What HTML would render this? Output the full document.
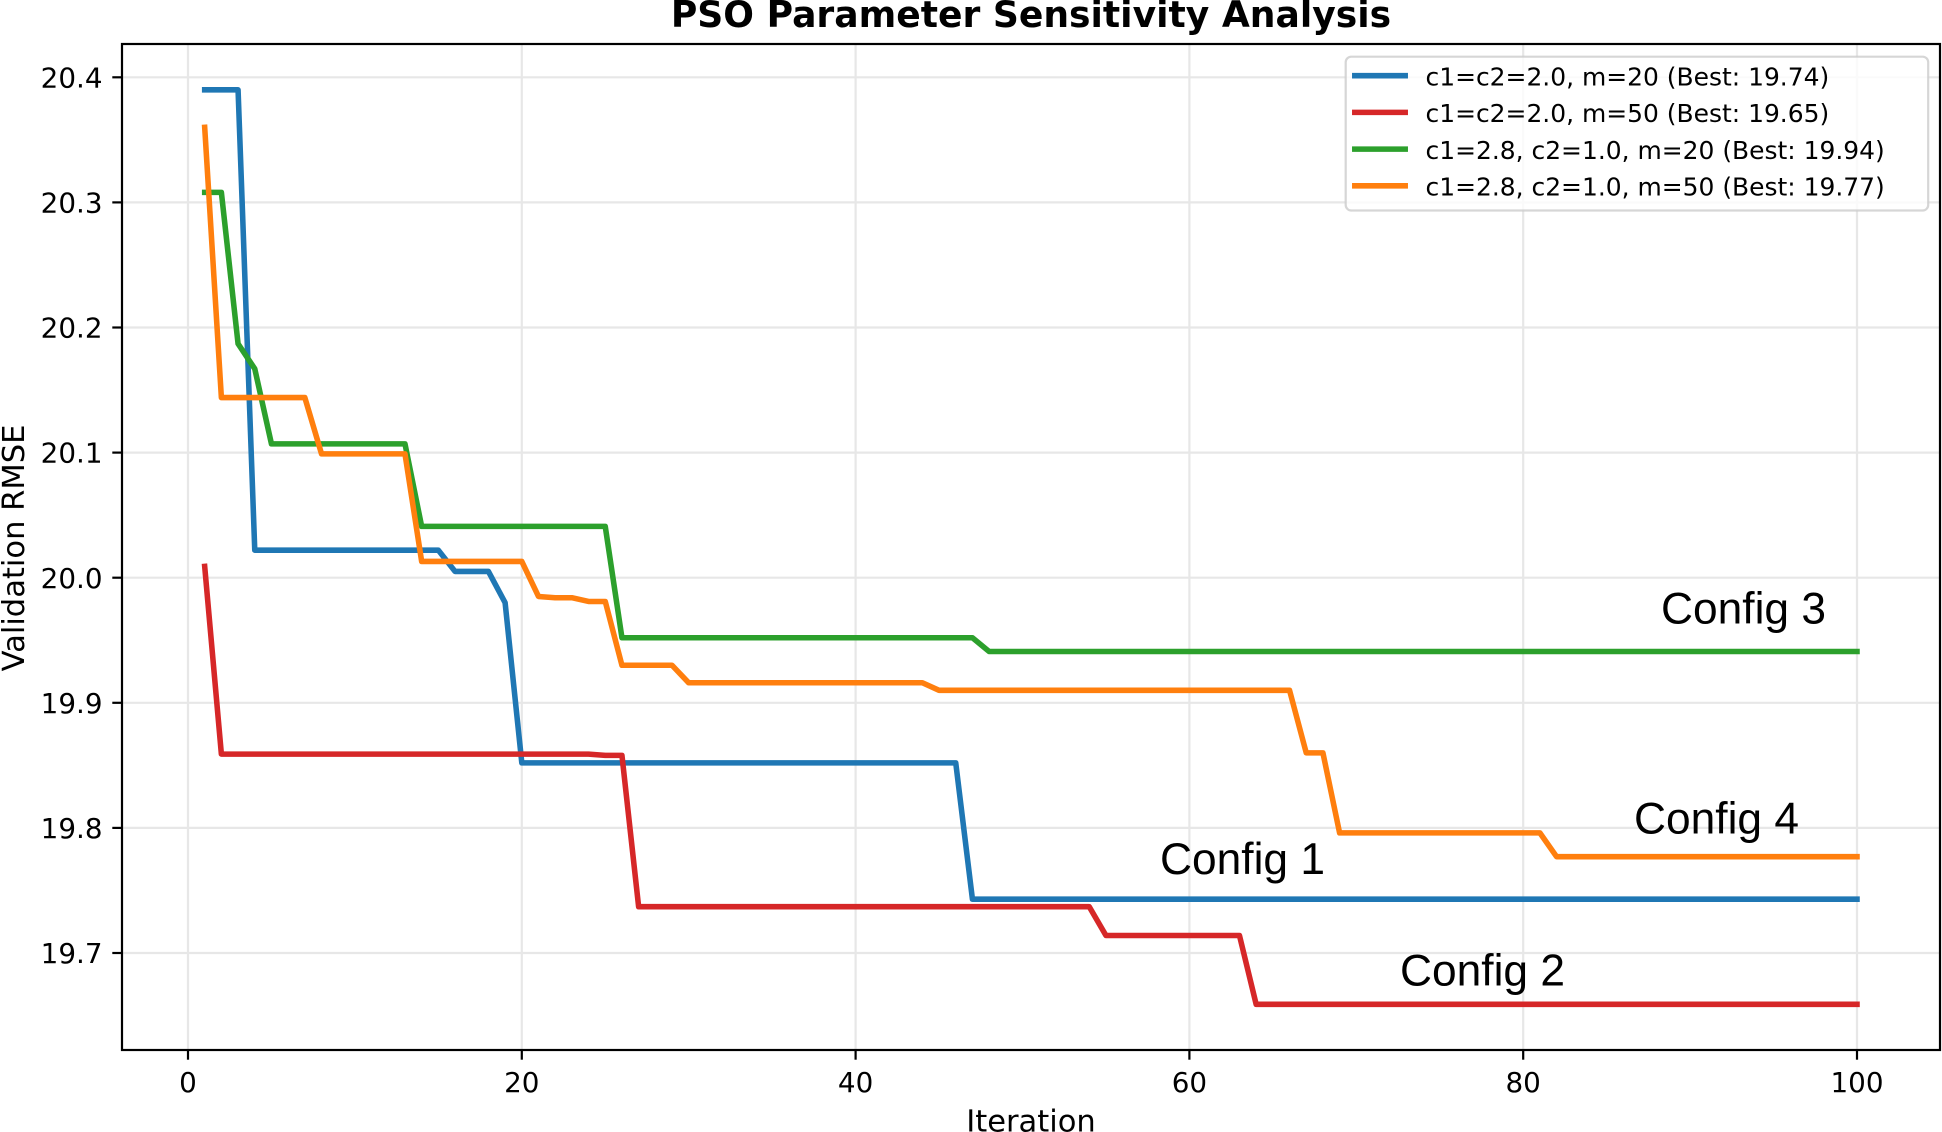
<!DOCTYPE html>
<html lang="en">
<head>
<meta charset="utf-8">
<title>PSO Parameter Sensitivity Analysis</title>
<style>
html,body{margin:0;padding:0;background:#fff;width:1942px;height:1132px;overflow:hidden}
svg{display:block}
text{font-family:"DejaVu Sans",sans-serif;fill:#000}
</style>
</head>
<body>
<svg id="chart" xmlns="http://www.w3.org/2000/svg" width="1942" height="1132" viewBox="0 0 1942 1132"></svg>
<script>
const iterations = [1,2,3,4,5,6,7,8,9,10,11,12,13,14,15,16,17,18,19,20,21,22,23,24,25,26,27,28,29,30,31,32,33,34,35,36,37,38,39,40,41,42,43,44,45,46,47,48,49,50,51,52,53,54,55,56,57,58,59,60,61,62,63,64,65,66,67,68,69,70,71,72,73,74,75,76,77,78,79,80,81,82,83,84,85,86,87,88,89,90,91,92,93,94,95,96,97,98,99,100];
const config1Values = [20.39,20.39,20.39,20.022,20.022,20.022,20.022,20.022,20.022,20.022,20.022,20.022,20.022,20.022,20.022,20.005,20.005,20.005,19.98,19.852,19.852,19.852,19.852,19.852,19.852,19.852,19.852,19.852,19.852,19.852,19.852,19.852,19.852,19.852,19.852,19.852,19.852,19.852,19.852,19.852,19.852,19.852,19.852,19.852,19.852,19.852,19.743,19.743,19.743,19.743,19.743,19.743,19.743,19.743,19.743,19.743,19.743,19.743,19.743,19.743,19.743,19.743,19.743,19.743,19.743,19.743,19.743,19.743,19.743,19.743,19.743,19.743,19.743,19.743,19.743,19.743,19.743,19.743,19.743,19.743,19.743,19.743,19.743,19.743,19.743,19.743,19.743,19.743,19.743,19.743,19.743,19.743,19.743,19.743,19.743,19.743,19.743,19.743,19.743,19.743];
const config2Values = [20.009,19.859,19.859,19.859,19.859,19.859,19.859,19.859,19.859,19.859,19.859,19.859,19.859,19.859,19.859,19.859,19.859,19.859,19.859,19.859,19.859,19.859,19.859,19.859,19.858,19.858,19.737,19.737,19.737,19.737,19.737,19.737,19.737,19.737,19.737,19.737,19.737,19.737,19.737,19.737,19.737,19.737,19.737,19.737,19.737,19.737,19.737,19.737,19.737,19.737,19.737,19.737,19.737,19.737,19.714,19.714,19.714,19.714,19.714,19.714,19.714,19.714,19.714,19.659,19.659,19.659,19.659,19.659,19.659,19.659,19.659,19.659,19.659,19.659,19.659,19.659,19.659,19.659,19.659,19.659,19.659,19.659,19.659,19.659,19.659,19.659,19.659,19.659,19.659,19.659,19.659,19.659,19.659,19.659,19.659,19.659,19.659,19.659,19.659,19.659];
const config3Values = [20.308,20.308,20.187,20.167,20.107,20.107,20.107,20.107,20.107,20.107,20.107,20.107,20.107,20.041,20.041,20.041,20.041,20.041,20.041,20.041,20.041,20.041,20.041,20.041,20.041,19.952,19.952,19.952,19.952,19.952,19.952,19.952,19.952,19.952,19.952,19.952,19.952,19.952,19.952,19.952,19.952,19.952,19.952,19.952,19.952,19.952,19.952,19.941,19.941,19.941,19.941,19.941,19.941,19.941,19.941,19.941,19.941,19.941,19.941,19.941,19.941,19.941,19.941,19.941,19.941,19.941,19.941,19.941,19.941,19.941,19.941,19.941,19.941,19.941,19.941,19.941,19.941,19.941,19.941,19.941,19.941,19.941,19.941,19.941,19.941,19.941,19.941,19.941,19.941,19.941,19.941,19.941,19.941,19.941,19.941,19.941,19.941,19.941,19.941,19.941];
const config4Values = [20.36,20.144,20.144,20.144,20.144,20.144,20.144,20.099,20.099,20.099,20.099,20.099,20.099,20.013,20.013,20.013,20.013,20.013,20.013,20.013,19.985,19.984,19.984,19.981,19.981,19.93,19.93,19.93,19.93,19.916,19.916,19.916,19.916,19.916,19.916,19.916,19.916,19.916,19.916,19.916,19.916,19.916,19.916,19.916,19.91,19.91,19.91,19.91,19.91,19.91,19.91,19.91,19.91,19.91,19.91,19.91,19.91,19.91,19.91,19.91,19.91,19.91,19.91,19.91,19.91,19.91,19.86,19.86,19.796,19.796,19.796,19.796,19.796,19.796,19.796,19.796,19.796,19.796,19.796,19.796,19.796,19.777,19.777,19.777,19.777,19.777,19.777,19.777,19.777,19.777,19.777,19.777,19.777,19.777,19.777,19.777,19.777,19.777,19.777,19.777];
const xTickLabels = ["0","20","40","60","80","100"];
const yTickLabels = ["19.7","19.8","19.9","20.0","20.1","20.2","20.3","20.4"];
const legendLabels = ["c1=c2=2.0, m=20 (Best: 19.74)","c1=c2=2.0, m=50 (Best: 19.65)","c1=2.8, c2=1.0, m=20 (Best: 19.94)","c1=2.8, c2=1.0, m=50 (Best: 19.77)"];
const seriesColors = ["#1f77b4","#d62728","#2ca02c","#ff7f0e"];
const seriesValues = [config1Values,config2Values,config3Values,config4Values];

const NS = "http://www.w3.org/2000/svg";
const svg = document.getElementById("chart");
const plot = {left:122,right:1940,top:44,bottom:1050};
function xScale(v){ return 188 + v * 16.69; }
function yScale(v){ return 77.3 + (20.4 - v) * 1251; }
function mk(tag, attrs, parent){
  const el = document.createElementNS(NS, tag);
  for (const k in attrs) el.setAttribute(k, attrs[k]);
  (parent || svg).appendChild(el);
  return el;
}
function label(txt, attrs, parent){
  const el = mk("text", attrs, parent);
  el.textContent = txt;
  return el;
}

const bg = mk("rect",{x:plot.left,y:plot.top,width:plot.right-plot.left,height:plot.bottom-plot.top,fill:"#fff"});



xTickLabels.forEach(function(t){
  const x = xScale(Number(t));
  const grid = mk("line",{x1:x,x2:x,y1:plot.top,y2:plot.bottom,stroke:"#e7e7e7","stroke-width":2.2});
  
  
});
yTickLabels.forEach(function(t){
  const y = yScale(Number(t));
  const grid = mk("line",{x1:plot.left,x2:plot.right,y1:y,y2:y,stroke:"#e7e7e7","stroke-width":2.2});
  
  
});

seriesValues.forEach(function(vals,i){
  const pts = vals.map(function(v,j){ return xScale(iterations[j]).toFixed(2)+","+yScale(v).toFixed(2); }).join(" ");
  const line = mk("polyline",{points:pts,fill:"none",stroke:seriesColors[i],"stroke-width":5.55,"stroke-linejoin":"round","stroke-linecap":"square"});
  
  
});

const spines = mk("rect",{x:plot.left,y:plot.top,width:plot.right-plot.left,height:plot.bottom-plot.top,fill:"none",stroke:"#000","stroke-width":2.2});



xTickLabels.forEach(function(t){
  const x = xScale(Number(t));
  const tick = mk("line",{x1:x,x2:x,y1:plot.bottom,y2:plot.bottom+9.7,stroke:"#000","stroke-width":2.2});
  
  
  const tl = label(t,{x:x,y:1092,"text-anchor":"middle","font-size":27.78});
  
  
});
yTickLabels.forEach(function(t){
  const y = yScale(Number(t));
  const tick = mk("line",{x1:plot.left-9.7,x2:plot.left,y1:y,y2:y,stroke:"#000","stroke-width":2.2});
  
  
  const tl = label(t,{x:102.5,y:y+10.1,"text-anchor":"end","font-size":27.78});
  
  
});

const title = label("PSO Parameter Sensitivity Analysis",{x:1031,y:27,"text-anchor":"middle","font-size":36.11,"font-weight":"bold"});


const xTitle = label("Iteration",{x:1031,y:1131.5,"text-anchor":"middle","font-size":30.56});


const yTitle = label("Validation RMSE",{x:0,y:0,"text-anchor":"middle","font-size":30.56,transform:"translate(24 548) rotate(-90)"});



const legendBox = mk("rect",{x:1345.7,y:56.7,width:582.5,height:153.8,rx:5.5,ry:5.5,fill:"#fff","fill-opacity":0.8,stroke:"#ccc","stroke-opacity":0.8,"stroke-width":2.2});


legendLabels.forEach(function(t,i){
  const y = 75.7 + i * 36.7;
  const swatch = mk("line",{x1:1354.8,x2:1405.2,y1:y,y2:y,stroke:seriesColors[i],"stroke-width":5.55,"stroke-linecap":"square"});
  
  
  const tx = label(t,{x:1425.5,y:y+9.8,"font-size":24.95});
  
  
});

const a1 = label("Config 1",{x:1160,y:874,"font-size":44.3,style:'font-family:"Liberation Sans",sans-serif'});


const a2 = label("Config 2",{x:1400,y:985.5,"font-size":44.3,style:'font-family:"Liberation Sans",sans-serif'});


const a3 = label("Config 3",{x:1661,y:623.7,"font-size":44.3,style:'font-family:"Liberation Sans",sans-serif'});


const a4 = label("Config 4",{x:1634,y:833.7,"font-size":44.3,style:'font-family:"Liberation Sans",sans-serif'});


</script>
</body>
</html>
